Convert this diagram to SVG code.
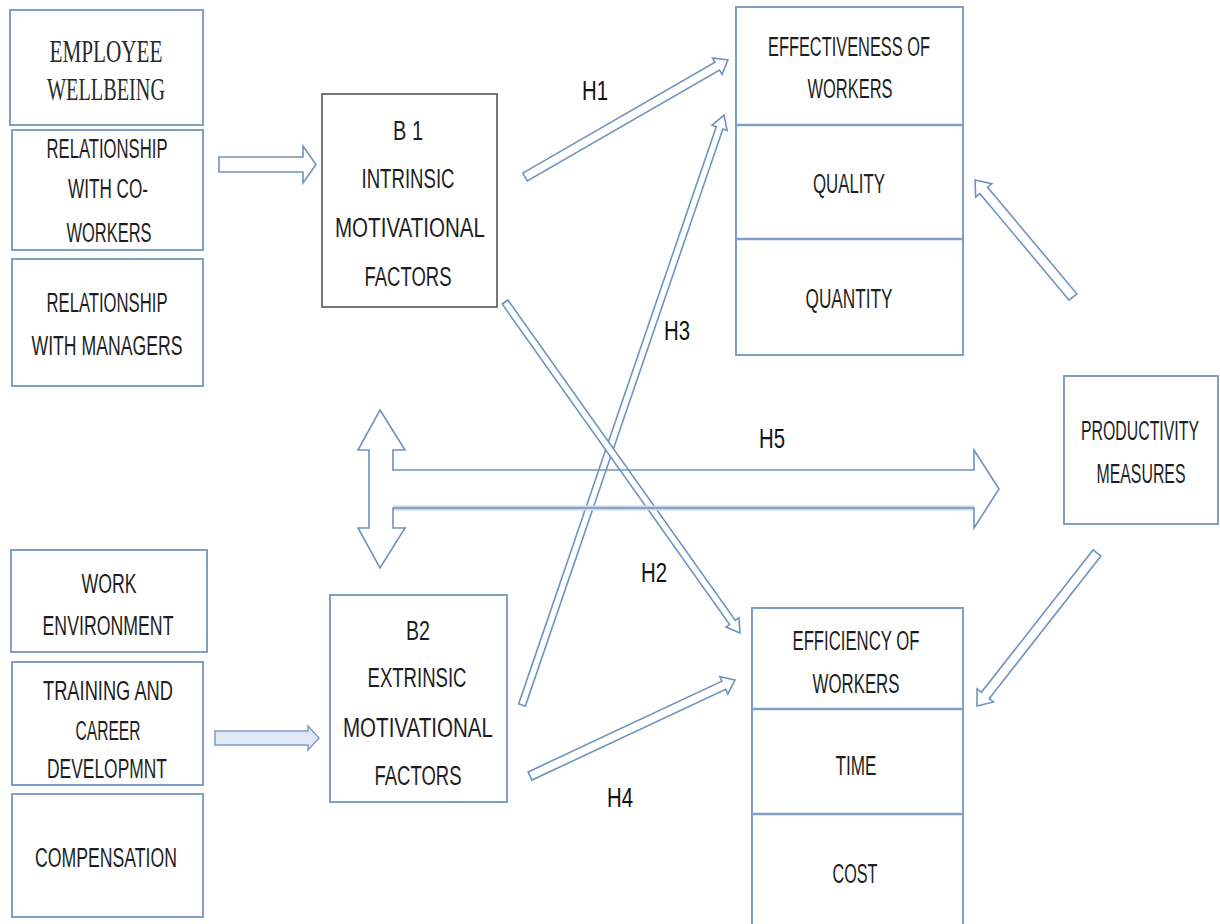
<svg xmlns="http://www.w3.org/2000/svg" width="1220" height="924" viewBox="0 0 1220 924">
<style>
.box{fill:#fff;stroke:#7f9fc6;stroke-width:2}
.dark{fill:#fff;stroke:#555;stroke-width:1.6}
.div{stroke:#7f9fc6;stroke-width:2.5;fill:none}
.t{font-family:"Liberation Sans",Arial,sans-serif;font-size:27px;fill:#1e1e1e;text-anchor:middle}
.s{font-family:"Liberation Serif","Times New Roman",serif;font-size:31px;fill:#2a2a2a;text-anchor:middle}
.arr{fill:#fff;stroke:#6f93bf;stroke-width:1.6;stroke-linejoin:miter}
.lbl{font-family:"Liberation Sans",Arial,sans-serif;font-size:27px;fill:#111;text-anchor:middle}
</style>
<rect width="1220" height="924" fill="#fff"/>

<g id="connectors">
  <path class="arr" d="M219,157 L303,157 L303,146 L316,164.5 L303,183 L303,172 L219,172 Z"/>
  <path d="M215,731 L308,731 L308,726 L319,738 L308,750 L308,745 L215,745 Z" fill="#dfe8f3" stroke="#7f9fc6" stroke-width="1.5"/>
  <g transform="translate(525,177) rotate(-29.96)"><path class="arr" d="M0,-4.5 L222,-4.5 L222,-9.5 L234.3,0 L222,9.5 L222,4.5 L0,4.5 Z"/></g>
  <g transform="translate(522,705) rotate(-71.1)"><path class="arr" d="M0,-3.5 L610,-3.5 L610,-8 L623.6,0 L610,8 L610,3.5 L0,3.5 Z"/></g>
  <g transform="translate(505,302) rotate(54.63)"><path class="arr" d="M0,-3.5 L393,-3.5 L393,-8 L405.9,0 L393,8 L393,3.5 L0,3.5 Z"/></g>
  <g transform="translate(530,776) rotate(-25.1)"><path class="arr" d="M0,-4.5 L214,-4.5 L214,-9.5 L226.4,0 L214,9.5 L214,4.5 L0,4.5 Z"/></g>
  <g transform="translate(1073,297) rotate(-129.95)"><path class="arr" d="M0,-5 L139,-5 L139,-10.5 L152.6,0 L139,10.5 L139,5 L0,5 Z"/></g>
  <g transform="translate(1097,553) rotate(128.1)"><path class="arr" d="M0,-5 L181,-5 L181,-10.5 L194.4,0 L181,10.5 L181,5 L0,5 Z"/></g>
  <path d="M393,508 L974,508" stroke="#c9d8ea" stroke-width="5" fill="none"/>
  <path class="arr" style="fill:none" d="M380,410 L405,450 L393,450 L393,470 L974,470 L974,450 L999,489 L974,528 L974,508 L393,508 L393,528 L405,528 L380,568 L358,528 L369,528 L369,450 L358,450 Z"/>
  <text class="lbl" x="595" y="100" textLength="26" lengthAdjust="spacingAndGlyphs">H1</text>
  <text class="lbl" x="677" y="340" textLength="26" lengthAdjust="spacingAndGlyphs">H3</text>
  <text class="lbl" x="772" y="448" textLength="26" lengthAdjust="spacingAndGlyphs">H5</text>
  <text class="lbl" x="654" y="582" textLength="26" lengthAdjust="spacingAndGlyphs">H2</text>
  <text class="lbl" x="620" y="807" textLength="26" lengthAdjust="spacingAndGlyphs">H4</text>
</g>

<g id="employee-wellbeing">
  <rect class="box" x="10" y="10" width="193" height="115"/>
  <text class="s" x="106" y="62" textLength="113" lengthAdjust="spacingAndGlyphs">EMPLOYEE</text>
  <text class="s" x="106" y="100" textLength="118" lengthAdjust="spacingAndGlyphs">WELLBEING</text>
</g>
<g id="relationship-coworkers">
  <rect class="box" x="12" y="130" width="191" height="120"/>
  <text class="t" x="107" y="158" textLength="121" lengthAdjust="spacingAndGlyphs">RELATIONSHIP</text>
  <text class="t" x="108" y="198" textLength="80" lengthAdjust="spacingAndGlyphs">WITH CO-</text>
  <text class="t" x="109" y="242" textLength="85" lengthAdjust="spacingAndGlyphs">WORKERS</text>
</g>
<g id="relationship-managers">
  <rect class="box" x="12" y="259" width="191" height="127"/>
  <text class="t" x="107" y="312" textLength="121" lengthAdjust="spacingAndGlyphs">RELATIONSHIP</text>
  <text class="t" x="107" y="355" textLength="151" lengthAdjust="spacingAndGlyphs">WITH MANAGERS</text>
</g>

<g id="b1">
  <rect class="dark" x="322" y="94" width="175" height="213"/>
  <text class="t" x="408" y="140" textLength="30" lengthAdjust="spacingAndGlyphs">B 1</text>
  <text class="t" x="408" y="188" textLength="93" lengthAdjust="spacingAndGlyphs">INTRINSIC</text>
  <text class="t" x="410" y="237" textLength="150" lengthAdjust="spacingAndGlyphs">MOTIVATIONAL</text>
  <text class="t" x="408" y="286" textLength="87" lengthAdjust="spacingAndGlyphs">FACTORS</text>
</g>

<g id="effectiveness">
  <rect class="box" x="736" y="7" width="227" height="348"/>
  <line class="div" x1="736" y1="125" x2="963" y2="125"/>
  <line class="div" x1="736" y1="239" x2="963" y2="239"/>
  <text class="t" x="849" y="56" textLength="162" lengthAdjust="spacingAndGlyphs">EFFECTIVENESS OF</text>
  <text class="t" x="850" y="98" textLength="85" lengthAdjust="spacingAndGlyphs">WORKERS</text>
  <text class="t" x="849" y="193" textLength="72" lengthAdjust="spacingAndGlyphs">QUALITY</text>
  <text class="t" x="849" y="308" textLength="87" lengthAdjust="spacingAndGlyphs">QUANTITY</text>
</g>

<g id="productivity">
  <rect class="box" x="1064" y="376" width="154" height="148"/>
  <text class="t" x="1140" y="440" textLength="118" lengthAdjust="spacingAndGlyphs">PRODUCTIVITY</text>
  <text class="t" x="1141" y="483" textLength="89" lengthAdjust="spacingAndGlyphs">MEASURES</text>
</g>

<g id="work-environment">
  <rect class="box" x="11" y="550" width="196" height="102"/>
  <text class="t" x="109" y="593" textLength="55" lengthAdjust="spacingAndGlyphs">WORK</text>
  <text class="t" x="108" y="635" textLength="131" lengthAdjust="spacingAndGlyphs">ENVIRONMENT</text>
</g>
<g id="training">
  <rect class="box" x="12" y="662" width="191" height="123"/>
  <text class="t" x="108" y="700" textLength="130" lengthAdjust="spacingAndGlyphs">TRAINING AND</text>
  <text class="t" x="108" y="740" textLength="65" lengthAdjust="spacingAndGlyphs">CAREER</text>
  <text class="t" x="107" y="778" textLength="120" lengthAdjust="spacingAndGlyphs">DEVELOPMNT</text>
</g>
<g id="compensation">
  <rect class="box" x="12" y="794" width="191" height="123"/>
  <text class="t" x="106" y="867" textLength="142" lengthAdjust="spacingAndGlyphs">COMPENSATION</text>
</g>

<g id="b2">
  <rect class="box" x="330" y="595" width="177" height="207"/>
  <text class="t" x="418" y="640" textLength="24" lengthAdjust="spacingAndGlyphs">B2</text>
  <text class="t" x="417" y="687" textLength="99" lengthAdjust="spacingAndGlyphs">EXTRINSIC</text>
  <text class="t" x="418" y="737" textLength="150" lengthAdjust="spacingAndGlyphs">MOTIVATIONAL</text>
  <text class="t" x="418" y="785" textLength="87" lengthAdjust="spacingAndGlyphs">FACTORS</text>
</g>

<g id="efficiency">
  <rect class="box" x="752" y="608" width="211" height="330"/>
  <line class="div" x1="752" y1="709" x2="963" y2="709"/>
  <line class="div" x1="752" y1="814" x2="963" y2="814"/>
  <text class="t" x="856" y="650" textLength="127" lengthAdjust="spacingAndGlyphs">EFFICIENCY OF</text>
  <text class="t" x="856" y="693" textLength="87" lengthAdjust="spacingAndGlyphs">WORKERS</text>
  <text class="t" x="856" y="775" textLength="41" lengthAdjust="spacingAndGlyphs">TIME</text>
  <text class="t" x="855" y="883" textLength="45" lengthAdjust="spacingAndGlyphs">COST</text>
</g>
</svg>
